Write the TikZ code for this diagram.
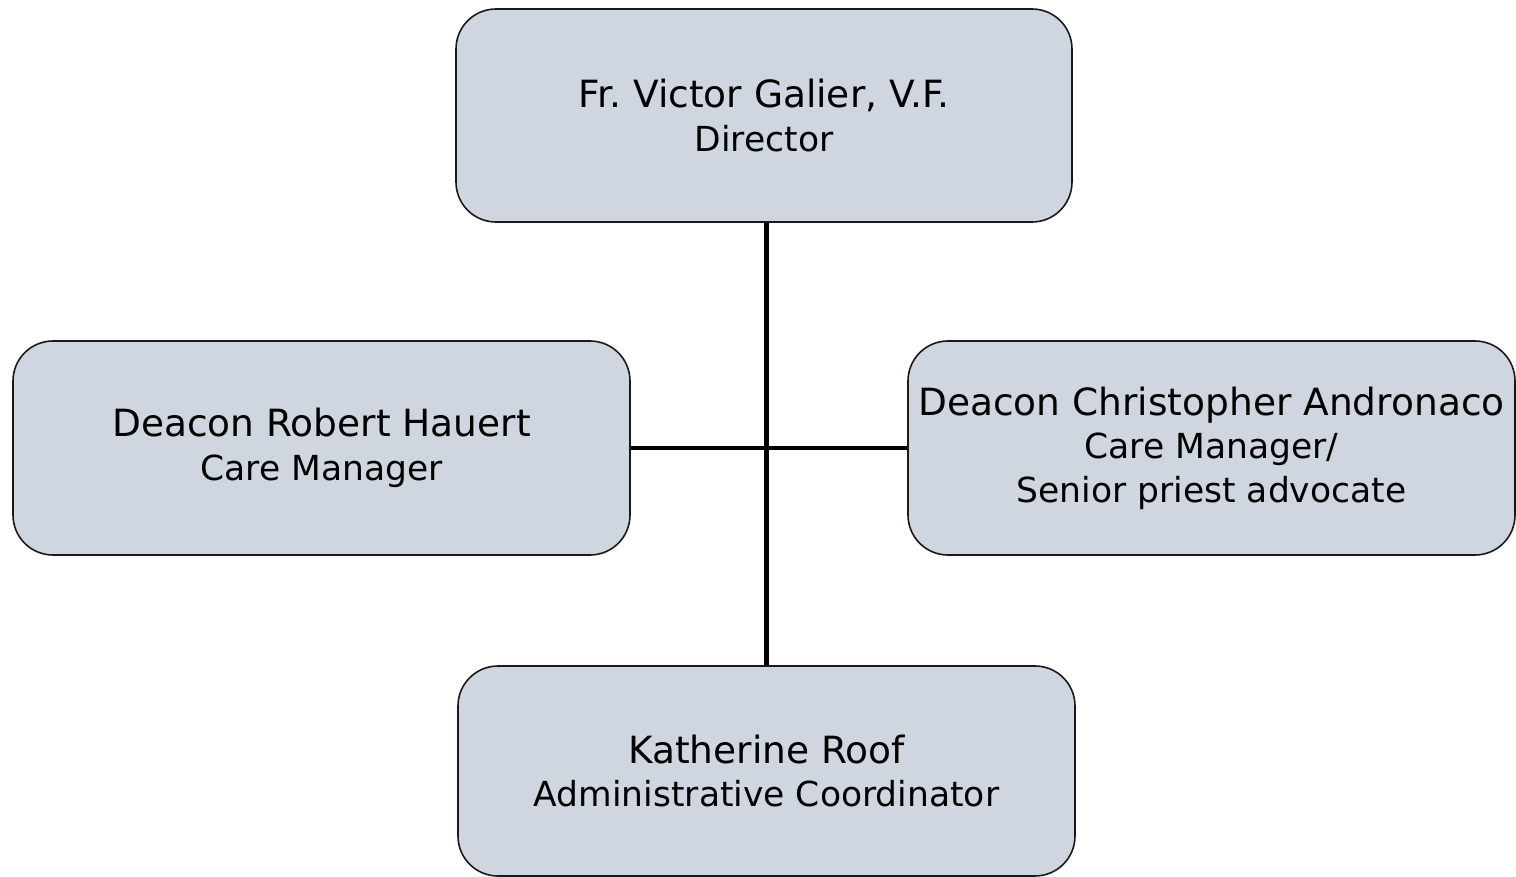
\documentclass[tikz,border=0pt]{standalone}
\usepackage{fontspec}
\setmainfont{DejaVu Sans}
\definecolor{boxfill}{RGB}{207,214,224}
\definecolor{boxline}{RGB}{25,25,25}
\tikzset{
  person/.style={draw=boxline, line width=1.6pt, fill=boxfill, rounded corners=40pt,
    align=center, inner sep=0pt, text=black,
    font=\frenchspacing\fontsize{37.5}{43.5}\selectfont},
  link/.style={draw=black, line width=4.6pt}
}
\newcommand{\sub}[1]{{\fontsize{34.5}{43.5}\selectfont #1}}
\begin{document}
\begin{tikzpicture}[x=1pt,y=-1pt]
\useasboundingbox (0,0) rectangle (1516,877);
\node[person, minimum width=616pt, minimum height=213pt] (top) at (764,115.5)
  {Fr.\ Victor Galier, V.F.\\\sub{Director}};
\node[person, minimum width=617pt, minimum height=214pt] (left) at (321.5,448)
  {Deacon Robert Hauert\\\sub{Care Manager}};
\node[person, minimum width=607pt, minimum height=214pt] (right) at (1211.5,448)
  {Deacon Christopher Andronaco\\\sub{Care Manager/}\\\sub{Senior priest advocate}};
\node[person, minimum width=617pt, minimum height=210pt] (bot) at (766.5,771)
  {Katherine Roof\\\sub{Administrative Coordinator}};
\draw[link] (bot.north) -- (bot.north |- top.south);
\draw[link] (left.east) -- (right.west);
\end{tikzpicture}
\end{document}
